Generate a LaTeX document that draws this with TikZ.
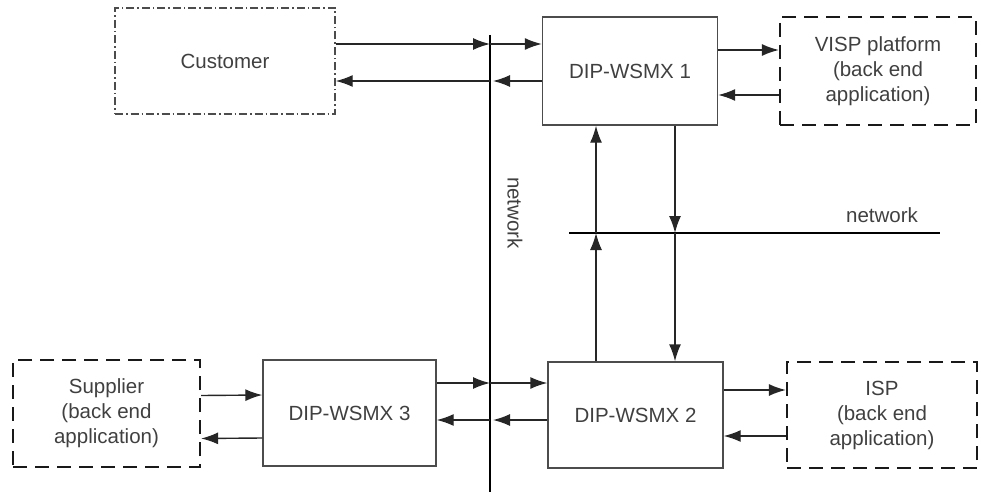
\documentclass[tikz,border=0pt]{standalone}
\usepackage{fontspec}
\setmainfont{Liberation Sans}
\usetikzlibrary{arrows.meta}

\begin{document}
\begin{tikzpicture}[
    x=1pt, y=-1pt,
    every node/.style={text=black!75, font=\fontsize{20.5}{25}\selectfont, align=center},
    dipbox/.style={draw=black!70, line width=1.4pt, rectangle, inner sep=0pt},
    backend/.style={draw=black!90, line width=2.2pt, rectangle, inner sep=0pt, dash pattern=on 14pt off 8pt},
    userbox/.style={draw=black!70, line width=1.4pt, rectangle, inner sep=0pt, dash pattern=on 8pt off 3pt on 1.5pt off 3pt},
    link/.style={draw=black!85, line width=1.4pt},
    netline/.style={draw=black, line width=1.4pt},
    >={Latex[length=17pt,width=12pt]}
]
\useasboundingbox (0,0) rectangle (981,492);

% Boxes
\node[userbox, minimum width=220pt, minimum height=106pt] (cust) at (225,61) {Customer};
\node[dipbox, minimum width=175pt, minimum height=108pt] (dip1) at (630,71) {DIP-WSMX 1};
\node[backend, minimum width=196pt, minimum height=108pt] (visp) at (878,71) {VISP platform\\(back end\\application)};

\node[dipbox, minimum width=175pt, minimum height=106pt] (dip2) at (635.5,415) {DIP-WSMX 2};
\node[backend, minimum width=190pt, minimum height=106pt] (isp) at (882,415) {ISP\\(back end\\application)};
\node[dipbox, minimum width=173pt, minimum height=106pt] (dip3) at (349.5,413) {DIP-WSMX 3};
\node[backend, minimum width=187pt, minimum height=107pt] (supp) at (106.5,413.5) {Supplier\\(back end\\application)};

% Network lines
\coordinate (netT) at (490,35);
\coordinate (netB) at (490,492);
\coordinate (netL) at (569,233);
\coordinate (netR) at (940,233);
\draw[netline] (netT) -- (netB);
\draw[netline] (netL) -- (netR);
\node[rotate=-90] (netVlabel) at (515,213) {network};
\node (netHlabel) at (882,215) {network};

% Helper coordinates on the network lines
\coordinate (c1) at (490,44);
\coordinate (c2) at (490,81);
\coordinate (c3) at (490,383);
\coordinate (c4) at (490,420);
\coordinate (up) at (596,233);
\coordinate (down) at (675,233);

% Customer <-> DIP-WSMX 1
\draw[link,->] (cust.east |- c1) -- (c1);
\draw[link,->] (c1) -- (dip1.west |- c1);
\draw[link,->] (dip1.west |- c2) -- ([xshift=3pt]c2);
\draw[link,->] (c2) -- (cust.east |- c2);

% DIP-WSMX 1 <-> VISP platform
\draw[link,->] ([yshift=21pt]dip1.east) -- ([yshift=21pt]visp.west);
\draw[link,->] ([yshift=-24pt]visp.west) -- ([yshift=-24pt]dip1.east);

% DIP-WSMX 1 <-> DIP-WSMX 2
\draw[link,->] (dip2.north -| up) -- (up);
\draw[link,->] (up) -- (dip1.south -| up);
\draw[link,->] (dip1.south -| down) -- (down);
\draw[link,->] (down) -- (dip2.north -| down);

% DIP-WSMX 3 <-> DIP-WSMX 2
\draw[link,->] (dip3.east |- c3) -- (c3);
\draw[link,->] (c3) -- (dip2.west |- c3);
\draw[link,->] (dip2.west |- c4) -- ([xshift=3pt]c4);
\draw[link,->] (c4) -- (dip3.east |- c4);

% DIP-WSMX 2 <-> ISP
\draw[link,->] ([yshift=25pt]dip2.east) -- ([yshift=25pt]isp.west);
\draw[link,->] ([yshift=-21pt]isp.west) -- ([yshift=-21pt]dip2.east);

% Supplier <-> DIP-WSMX 3
\draw[link,->] ([yshift=18pt]supp.east) -- ([yshift=18pt]dip3.west);
\draw[link,->] ([yshift=-25pt]dip3.west) -- ([yshift=-25pt]supp.east);

\end{tikzpicture}
\end{document}
